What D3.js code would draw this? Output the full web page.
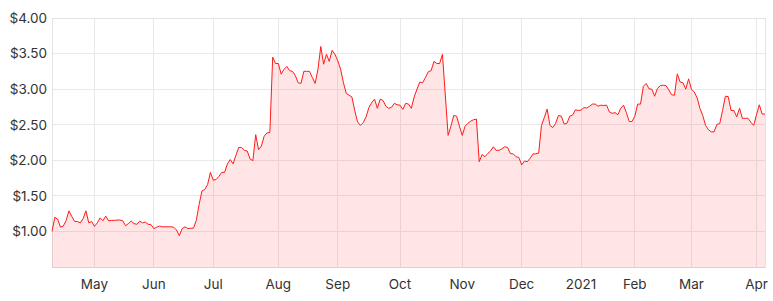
<!DOCTYPE html>
<html>
<head>
<meta charset="utf-8">
<script src="https://cdn.jsdelivr.net/npm/d3@7"></script>
<style>
  html, body { margin: 0; padding: 0; background: #fff; }
  svg { display: block; }
  text { font-family: "Inter", "Noto Sans", sans-serif; fill: #333; }
</style>
</head>
<body>
<svg id="chart" width="773" height="301"></svg>
<script>
// Daily closing prices (trading days)
const prices = [
  1.00, 1.20, 1.17, 1.06, 1.075, 1.155, 1.29, 1.21, 1.14, 1.14,
  1.12, 1.18, 1.29, 1.12, 1.14, 1.07, 1.12, 1.19, 1.15, 1.215,
  1.15, 1.155, 1.155, 1.16, 1.16, 1.15, 1.08, 1.11, 1.145, 1.11,
  1.10, 1.145, 1.12, 1.13, 1.10, 1.095, 1.04, 1.06, 1.075, 1.065,
  1.065, 1.065, 1.065, 1.06, 1.02, 0.94, 1.04, 1.065, 1.04, 1.045,
  1.045, 1.155, 1.38, 1.57, 1.59, 1.66, 1.83, 1.72, 1.73, 1.775,
  1.83, 1.83, 1.95, 2.01, 1.95, 2.07, 2.18, 2.18, 2.14, 2.13,
  2.02, 1.995, 2.36, 2.15, 2.20, 2.34, 2.385, 2.39, 3.45, 3.36,
  3.36, 3.21, 3.28, 3.32, 3.26, 3.25, 3.19, 3.09, 3.08, 3.25,
  3.25, 3.25, 3.165, 3.08, 3.28, 3.60, 3.35, 3.49, 3.39, 3.545,
  3.49, 3.40, 3.28, 3.09, 2.94, 2.915, 2.89, 2.70, 2.54, 2.49,
  2.53, 2.61, 2.74, 2.81, 2.86, 2.73, 2.86, 2.84, 2.76, 2.73,
  2.745, 2.80, 2.78, 2.775, 2.715, 2.80, 2.79, 2.73, 2.89, 3.00,
  3.10, 3.09, 3.165, 3.245, 3.26, 3.39, 3.36, 3.36, 3.49, 2.92,
  2.35, 2.48, 2.63, 2.62, 2.48, 2.35, 2.48, 2.52, 2.55, 2.57,
  2.58, 1.98, 2.08, 2.05, 2.095, 2.13, 2.19, 2.14, 2.14, 2.16,
  2.19, 2.18, 2.095, 2.09, 2.05, 2.04, 1.935, 1.99, 1.98, 2.03,
  2.09, 2.09, 2.10, 2.49, 2.60, 2.72, 2.49, 2.46, 2.52, 2.63,
  2.62, 2.51, 2.52, 2.62, 2.635, 2.71, 2.70, 2.705, 2.74, 2.735,
  2.76, 2.79, 2.79, 2.76, 2.775, 2.77, 2.775, 2.68, 2.66, 2.67,
  2.64, 2.73, 2.775, 2.67, 2.545, 2.545, 2.62, 2.79, 2.79, 3.04,
  3.08, 3.005, 3.00, 2.90, 3.01, 3.05, 3.055, 3.05, 2.99, 2.92,
  2.915, 3.215, 3.10, 3.09, 3.00, 3.145, 3.00, 2.96, 2.88, 2.73,
  2.63, 2.49, 2.43, 2.40, 2.40, 2.505, 2.515, 2.70, 2.90, 2.895,
  2.70, 2.70, 2.61, 2.73, 2.59, 2.59, 2.59, 2.535, 2.49, 2.64,
  2.78, 2.65, 2.65
];

// Month tick labels and the trading-day index where each month starts
const monthLabels = ["May", "Jun", "Jul", "Aug", "Sep", "Oct", "Nov", "Dec", "2021", "Feb", "Mar", "Apr"];
const monthIdx = [15, 36, 57, 80, 101, 123, 145, 166, 187, 206, 226, 249];

// Y tick values
const yTicks = [1.0, 1.5, 2.0, 2.5, 3.0, 3.5, 4.0];

const W = 773, H = 301;
const margin = { top: 18, right: 8, bottom: 34, left: 52 };
const iw = W - margin.left - margin.right;
const ih = H - margin.top - margin.bottom;

const svg = d3.select("#chart");
const g = svg.append("g").attr("transform", `translate(${margin.left},${margin.top})`);

const x = d3.scaleLinear().domain([0, prices.length - 1]).range([0, iw]);
const y = d3.scaleLinear().domain([0.5, 4.0]).range([ih, 0]);

const gridColor = "#e9e9e9";

// horizontal gridlines
g.append("g").selectAll("line").data(yTicks).join("line")
  .attr("x1", 0).attr("x2", iw)
  .attr("y1", d => y(d)).attr("y2", d => y(d))
  .attr("stroke", gridColor).attr("stroke-width", 1).attr("shape-rendering", "crispEdges");

// vertical gridlines
g.append("g").selectAll("line").data(monthIdx).join("line")
  .attr("x1", d => x(d)).attr("x2", d => x(d))
  .attr("y1", 0).attr("y2", ih)
  .attr("stroke", gridColor).attr("stroke-width", 1).attr("shape-rendering", "crispEdges");

// frame
g.append("rect").attr("x", 0).attr("y", 0).attr("width", iw).attr("height", ih)
  .attr("fill", "none").attr("stroke", "#e3e3e3").attr("shape-rendering", "crispEdges");

// area
const area = d3.area()
  .x((d, i) => x(i))
  .y0(y(0.5))
  .y1(d => y(d));
g.append("path").datum(prices)
  .attr("d", area)
  .attr("fill", "rgba(255, 40, 40, 0.12)");

// line
const line = d3.line().x((d, i) => x(i)).y(d => y(d));
g.append("path").datum(prices)
  .attr("d", line)
  .attr("fill", "none")
  .attr("stroke", "#ff1a1a")
  .attr("stroke-width", 1)
  .attr("stroke-linejoin", "round");

// bottom axis line
g.append("line").attr("x1", 0).attr("x2", iw).attr("y1", ih).attr("y2", ih)
  .attr("stroke", "#dcd0d0").attr("shape-rendering", "crispEdges");

// y labels
g.append("g").selectAll("text").data(yTicks).join("text")
  .attr("x", -5).attr("y", d => y(d)).attr("dy", "0.36em")
  .attr("text-anchor", "end")
  .attr("font-size", 13.5)
  .text(d => "$" + d.toFixed(2));

// x labels
g.append("g").selectAll("text").data(monthIdx).join("text")
  .attr("x", d => x(d)).attr("y", ih + 22)
  .attr("text-anchor", "middle")
  .attr("font-size", 13.5)
  .text((d, i) => monthLabels[i]);
</script>
</body>
</html>
